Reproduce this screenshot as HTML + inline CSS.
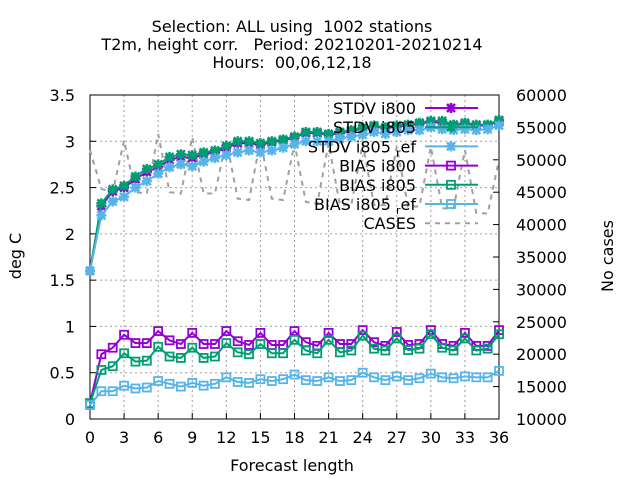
<!DOCTYPE html>
<html><head><meta charset="utf-8"><style>
body{margin:0;background:#fff}
svg{font-family:"DejaVu Sans","Liberation Sans",sans-serif}
text{white-space:pre}
</style></head><body>
<svg id="chart" width="640" height="480" viewBox="0 0 640 480" xmlns="http://www.w3.org/2000/svg">
<g font-size="16" text-anchor="middle" fill="#000">
<text x="292" y="32">Selection: ALL using  1002 stations</text>
<text x="292" y="50">T2m, height corr.   Period: 20210201-20210214</text>
<text x="292" y="68">Hours:  00,06,12,18</text>
</g>
<g id="grid"></g>
<g id="axes"></g>
<g id="series"></g>
<g id="legend"></g>
<text x="292" y="471" font-size="16" text-anchor="middle">Forecast length</text>
<text x="21" y="256" font-size="16" text-anchor="middle" transform="rotate(-90 21 256)">deg C</text>
<text x="613" y="256" font-size="16" text-anchor="middle" transform="rotate(-90 613 256)">No cases</text>
</svg>
<script>
const hours = [0,1,2,3,4,5,6,7,8,9,10,11,12,13,14,15,16,17,18,19,20,21,22,23,24,25,26,27,28,29,30,31,32,33,34,35,36];
const stdvI800 = [1.6,2.3,2.46,2.5,2.59,2.67,2.72,2.8,2.83,2.82,2.86,2.88,2.93,2.98,2.98,2.96,2.99,3.01,3.04,3.09,3.09,3.07,3.09,3.11,3.14,3.16,3.14,3.16,3.17,3.19,3.21,3.2,3.17,3.19,3.17,3.17,3.22];
const stdvI805 = [1.6,2.33,2.48,2.52,2.62,2.7,2.75,2.83,2.86,2.85,2.88,2.9,2.95,3.0,3.0,2.98,3.0,3.02,3.05,3.1,3.1,3.08,3.1,3.12,3.15,3.17,3.15,3.17,3.18,3.2,3.22,3.22,3.18,3.2,3.18,3.18,3.23];
const stdvRef = [1.6,2.2,2.35,2.4,2.5,2.57,2.65,2.72,2.75,2.73,2.78,2.82,2.85,2.88,2.9,2.88,2.9,2.93,2.97,3.0,3.0,3.0,3.03,3.05,3.07,3.1,3.08,3.1,3.12,3.12,3.15,3.13,3.12,3.13,3.12,3.13,3.17];
const biasI800 = [0.17,0.7,0.77,0.91,0.82,0.82,0.95,0.85,0.81,0.93,0.81,0.81,0.95,0.84,0.8,0.93,0.8,0.8,0.95,0.83,0.79,0.93,0.81,0.81,0.96,0.83,0.79,0.94,0.8,0.81,0.96,0.81,0.79,0.93,0.79,0.79,0.96];
const biasI805 = [0.17,0.53,0.57,0.71,0.62,0.63,0.78,0.675,0.66,0.77,0.66,0.675,0.82,0.72,0.7,0.81,0.71,0.71,0.855,0.74,0.71,0.855,0.72,0.74,0.9,0.76,0.74,0.87,0.745,0.76,0.915,0.77,0.74,0.87,0.74,0.76,0.915];
const biasRef = [0.15,0.3,0.3,0.36,0.33,0.34,0.41,0.38,0.35,0.39,0.36,0.38,0.45,0.4,0.39,0.43,0.41,0.43,0.48,0.42,0.41,0.45,0.41,0.42,0.5,0.45,0.42,0.46,0.42,0.44,0.49,0.45,0.44,0.46,0.45,0.45,0.52];
const cases = [51500,45500,45000,53000,45000,44800,54000,45000,44800,53500,44800,44800,53000,44000,43800,53000,44000,43800,52500,43500,43200,52500,43000,43000,52500,43000,43000,52000,42800,42800,52000,42500,42500,51500,41800,41700,50000];
const xTicks = [0,3,6,9,12,15,18,21,24,27,30,33,36];
const yTicks = [0,0.5,1,1.5,2,2.5,3,3.5];
const y2Ticks = [10000,15000,20000,25000,30000,35000,40000,45000,50000,55000,60000];

const L=90,R=499,T=95,B=419;
const xs=v=>L+(v/36)*(R-L);
const ys=v=>B-(v/3.5)*(B-T);
const y2s=v=>B-((v-10000)/50000)*(B-T);
const NS="http://www.w3.org/2000/svg";
function mk(tag,attrs,parent){const e=document.createElementNS(NS,tag);for(const k in attrs)e.setAttribute(k,attrs[k]);parent.appendChild(e);return e;}
const grid=document.getElementById('grid'),axes=document.getElementById('axes'),series=document.getElementById('series'),legend=document.getElementById('legend');

xTicks.forEach(t=>{
  if(t>0&&t<36){const g=mk('line',{x1:xs(t),x2:xs(t),y1:T,y2:B,stroke:'#a0a0a0','stroke-dasharray':'2,3'},grid);
  
  }
  const tk=mk('line',{x1:xs(t),x2:xs(t),y1:B,y2:B-6,stroke:'#000'},axes);
  
  
  const tx=mk('text',{x:xs(t),y:B+24,'font-size':16,'text-anchor':'middle'},axes);tx.textContent=t;
  
  
});
yTicks.forEach(t=>{
  if(t>0&&t<3.5){const g=mk('line',{x1:L,x2:R,y1:ys(t),y2:ys(t),stroke:'#a0a0a0','stroke-dasharray':'2,3'},grid);
  
  }
  const tk=mk('line',{x1:L,x2:L+6,y1:ys(t),y2:ys(t),stroke:'#000'},axes);
  
  
  const tx=mk('text',{x:L-15,y:ys(t)+6,'font-size':16,'text-anchor':'end'},axes);tx.textContent=t;
  
  
});
y2Ticks.forEach(t=>{
  const tk=mk('line',{x1:R,x2:R-6,y1:y2s(t),y2:y2s(t),stroke:'#000'},axes);
  
  
  const tx=mk('text',{x:R+17,y:y2s(t)+6,'font-size':16,'text-anchor':'start'},axes);tx.textContent=t;
  
  
});
const frame=mk('rect',{x:L,y:T,width:R-L,height:B-T,fill:'none',stroke:'#000','stroke-width':1},axes);



function star(x,y,c,p){const d=`M${x-4},${y-4}L${x+4},${y+4}M${x-4},${y+4}L${x+4},${y-4}M${x-5},${y}L${x+5},${y}M${x},${y-5}L${x},${y+5}`;
  return mk('path',{d:d,stroke:c,'stroke-width':2.5,fill:'none'},p);}
function sq(x,y,c,p){return mk('rect',{x:x-4,y:y-4,width:8,height:8,stroke:c,'stroke-width':1.8,fill:'none'},p);}

const casesLine=mk('polyline',{points:hours.map((h,i)=>xs(h)+','+y2s(cases[i])).join(' '),fill:'none',stroke:'#a0a0a0','stroke-width':2,'stroke-dasharray':'5,5'},series);



const defs=[
 {name:'stdv-i800',data:stdvI800,color:'#9400d3',mark:star},
 {name:'stdv-i805',data:stdvI805,color:'#009e73',mark:star},
 {name:'stdv-i805-ref',data:stdvRef,color:'#56b4e9',mark:star},
 {name:'bias-i800',data:biasI800,color:'#9400d3',mark:sq},
 {name:'bias-i805',data:biasI805,color:'#009e73',mark:sq},
 {name:'bias-i805-ref',data:biasRef,color:'#56b4e9',mark:sq}
];
defs.forEach(s=>{
  const g=mk('g',{},series);
  
  
  const ln=mk('polyline',{points:hours.map((h,i)=>xs(h)+','+ys(s.data[i])).join(' '),fill:'none',stroke:s.color,'stroke-width':2},g);
  
  
  hours.forEach((h,i)=>{const m=s.mark(xs(h),ys(s.data[i]),s.color,g);
    
    });
});

const lab=[['STDV i800','#9400d3',star,false],['STDV i805','#009e73',star,false],['STDV i805','#56b4e9',star,true],['BIAS i800','#9400d3',sq,false],['BIAS i805','#009e73',sq,false],['BIAS i805','#56b4e9',sq,true],['CASES','#a0a0a0',null,false]];
lab.forEach((l,i)=>{
  const y=108+i*19.2;
  const g=mk('g',{},legend);
  
  
  const t=mk('text',{x:416,y:y+6,'font-size':16,'text-anchor':'end'},g);
  if(l[3]){t.textContent=l[0]+' ';const s1=mk('tspan',{'font-size':11,dy:4},t);s1.textContent='r';const s2=mk('tspan',{dy:-4},t);s2.textContent='ef';}
  else t.textContent=l[0];
  if(l[2]){mk('line',{x1:425,x2:478,y1:y,y2:y,stroke:l[1],'stroke-width':2},g);l[2](451,y,l[1],g);}
  else mk('line',{x1:425,x2:478,y1:y,y2:y,stroke:l[1],'stroke-width':2,'stroke-dasharray':'5,5'},g);
});
</script>
</body></html>
